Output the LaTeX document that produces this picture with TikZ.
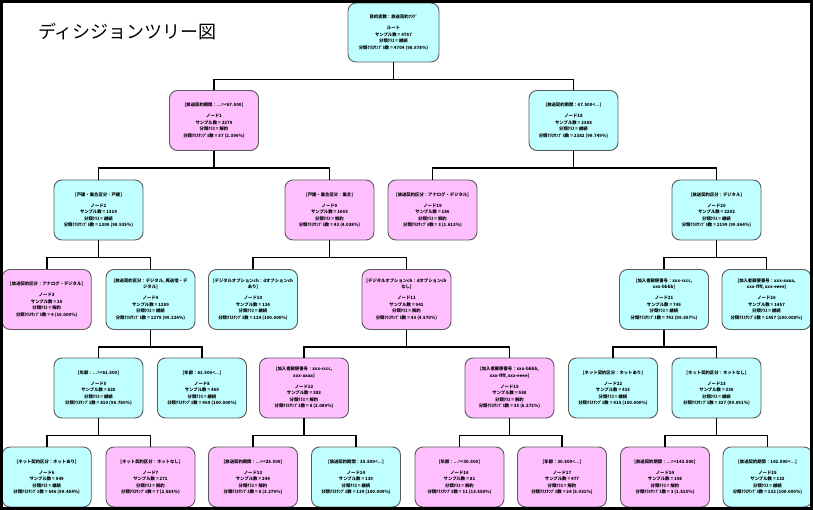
\documentclass[tikz,border=0pt]{standalone}
\usepackage{fontspec}
\setmainfont{Noto Sans CJK JP}
\definecolor{contcyan}{RGB}{191,255,255}
\definecolor{churnpink}{RGB}{255,191,255}

\begin{document}
\begin{tikzpicture}[
    x=1pt, y=-1pt,
    box/.style={rectangle, draw=black!65, rounded corners=8pt, minimum width=89pt, minimum height=60pt, align=center, font=\fontsize{4.35}{6.5}\selectfont\bfseries, line width=0.9pt, inner sep=1pt},
    cont/.style={box, fill=contcyan},
    churn/.style={box, fill=churnpink},
    link/.style={line width=1.6pt},
    ttl/.style={font=\fontsize{18}{20}\selectfont}
]
\useasboundingbox (0,0) rectangle (813,510);

% Title
\node[ttl] (title) at (127.5,32) {ディシジョンツリー図};

% Root
\node[cont, minimum width=91pt, minimum height=59pt] (n0) at (393.5,32.5) {目的変数：放送契約ﾌﾗｸﾞ\\[5pt]ルート\\サンプル数 = 4767\\分類ｸﾗｽ = 継続\\分類ｸﾗｽｻﾝﾌﾟﾙ数 = 4704 (98.678\%)};

% Level 1
\node[churn] (n1) at (214,120.5) {[放送契約期間：...=<67.500]\\[4.5pt]ノード1\\サンプル数 = 2379\\分類ｸﾗｽ = 解約\\分類ｸﾗｽｻﾝﾌﾟﾙ数 = 57 (2.396\%)};
\node[cont] (n18) at (573.5,120.5) {[放送契約期間：67.500<...]\\[4.5pt]ノード18\\サンプル数 = 2388\\分類ｸﾗｽ = 継続\\分類ｸﾗｽｻﾝﾌﾟﾙ数 = 2382 (99.749\%)};

% Level 2
\node[cont] (n2) at (98.5,210) {[戸建・集合区分：戸建]\\[4.5pt]ノード2\\サンプル数 = 1314\\分類ｸﾗｽ = 継続\\分類ｸﾗｽｻﾝﾌﾟﾙ数 = 1300 (98.935\%)};
\node[churn] (n9) at (329.5,210) {[戸建・集合区分：集合]\\[4.5pt]ノード9\\サンプル数 = 1065\\分類ｸﾗｽ = 解約\\分類ｸﾗｽｻﾝﾌﾟﾙ数 = 43 (4.038\%)};
\node[churn] (n19) at (432.5,210) {[放送契約区分：アナログ・デジタル]\\[4.5pt]ノード19\\サンプル数 = 186\\分類ｸﾗｽ = 解約\\分類ｸﾗｽｻﾝﾌﾟﾙ数 = 3 (1.613\%)};
\node[cont] (n20) at (716.5,210) {[放送契約区分：デジタル]\\[4.5pt]ノード20\\サンプル数 = 2202\\分類ｸﾗｽ = 継続\\分類ｸﾗｽｻﾝﾌﾟﾙ数 = 2199 (99.864\%)};

% Level 3
\node[churn] (n3) at (46.7,299.5) {[放送契約区分：アナログ・デジタル]\\[4.5pt]ノード3\\サンプル数 = 25\\分類ｸﾗｽ = 解約\\分類ｸﾗｽｻﾝﾌﾟﾙ数 = 4 (16.000\%)};
\node[cont] (n4) at (150.5,299.5) {[放送契約区分：デジタル, 再送信・デ\\ジタル]\\[4.5pt]ノード4\\サンプル数 = 1289\\分類ｸﾗｽ = 継続\\分類ｸﾗｽｻﾝﾌﾟﾙ数 = 1279 (99.224\%)};
\node[cont] (n10) at (253,299.5) {[デジタルオプションch：dオプションch\\あり]\\[4.5pt]ノード10\\サンプル数 = 124\\分類ｸﾗｽ = 継続\\分類ｸﾗｽｻﾝﾌﾟﾙ数 = 124 (100.000\%)};
\node[churn] (n11) at (406.5,299.5) {[デジタルオプションch：dオプションch\\なし]\\[4.5pt]ノード11\\サンプル数 = 941\\分類ｸﾗｽ = 解約\\分類ｸﾗｽｻﾝﾌﾟﾙ数 = 43 (4.570\%)};
\node[cont] (n21) at (664,299.5) {[加入者郵便番号：xxx-cccc,\\xxx-bbbb]\\[4.5pt]ノード21\\サンプル数 = 745\\分類ｸﾗｽ = 継続\\分類ｸﾗｽｻﾝﾌﾟﾙ数 = 742 (99.597\%)};
\node[cont] (n26) at (766.5,299.5) {[加入者郵便番号：xxx-aaaa,\\xxx-ffff, xxx-eeee]\\[4.5pt]ノード26\\サンプル数 = 1457\\分類ｸﾗｽ = 継続\\分類ｸﾗｽｻﾝﾌﾟﾙ数 = 1457 (100.000\%)};

% Level 4
\node[cont] (n5) at (98.5,388) {[年齢：...=<61.500]\\[4.5pt]ノード5\\サンプル数 = 820\\分類ｸﾗｽ = 継続\\分類ｸﾗｽｻﾝﾌﾟﾙ数 = 810 (98.780\%)};
\node[cont] (n8) at (202,388) {[年齢：61.500<...]\\[4.5pt]ノード8\\サンプル数 = 469\\分類ｸﾗｽ = 継続\\分類ｸﾗｽｻﾝﾌﾟﾙ数 = 469 (100.000\%)};
\node[churn] (n12) at (304,388) {[加入者郵便番号：xxx-cccc,\\xxx-aaaa]\\[4.5pt]ノード12\\サンプル数 = 383\\分類ｸﾗｽ = 解約\\分類ｸﾗｽｻﾝﾌﾟﾙ数 = 8 (2.089\%)};
\node[churn] (n15) at (509.5,388) {[加入者郵便番号：xxx-bbbb,\\xxx-ffff, xxx-eeee]\\[4.5pt]ノード15\\サンプル数 = 558\\分類ｸﾗｽ = 解約\\分類ｸﾗｽｻﾝﾌﾟﾙ数 = 35 (6.272\%)};
\node[cont] (n22) at (613,388) {[ネット契約区分：ネットあり]\\[4.5pt]ノード22\\サンプル数 = 415\\分類ｸﾗｽ = 継続\\分類ｸﾗｽｻﾝﾌﾟﾙ数 = 415 (100.000\%)};
\node[cont] (n23) at (716.5,388) {[ネット契約区分：ネットなし]\\[4.5pt]ノード23\\サンプル数 = 330\\分類ｸﾗｽ = 継続\\分類ｸﾗｽｻﾝﾌﾟﾙ数 = 327 (99.091\%)};

% Level 5
\node[cont] (n6) at (46.7,477) {[ネット契約区分：ネットあり]\\[4.5pt]ノード6\\サンプル数 = 549\\分類ｸﾗｽ = 継続\\分類ｸﾗｽｻﾝﾌﾟﾙ数 = 546 (99.454\%)};
\node[churn] (n7) at (150.5,477) {[ネット契約区分：ネットなし]\\[4.5pt]ノード7\\サンプル数 = 271\\分類ｸﾗｽ = 解約\\分類ｸﾗｽｻﾝﾌﾟﾙ数 = 7 (2.583\%)};
\node[churn] (n13) at (253,477) {[放送契約期間：...=<25.500]\\[4.5pt]ノード13\\サンプル数 = 244\\分類ｸﾗｽ = 解約\\分類ｸﾗｽｻﾝﾌﾟﾙ数 = 8 (3.279\%)};
\node[cont] (n14) at (356,477) {[放送契約期間：25.500<...]\\[4.5pt]ノード14\\サンプル数 = 139\\分類ｸﾗｽ = 継続\\分類ｸﾗｽｻﾝﾌﾟﾙ数 = 139 (100.000\%)};
\node[churn] (n16) at (459.5,477) {[年齢：...=<30.500]\\[4.5pt]ノード16\\サンプル数 = 81\\分類ｸﾗｽ = 解約\\分類ｸﾗｽｻﾝﾌﾟﾙ数 = 11 (13.580\%)};
\node[churn] (n17) at (562,477) {[年齢：30.500<...]\\[4.5pt]ノード17\\サンプル数 = 477\\分類ｸﾗｽ = 解約\\分類ｸﾗｽｻﾝﾌﾟﾙ数 = 24 (5.031\%)};
\node[churn] (n24) at (665,477) {[放送契約期間：...=<142.500]\\[4.5pt]ノード24\\サンプル数 = 198\\分類ｸﾗｽ = 解約\\分類ｸﾗｽｻﾝﾌﾟﾙ数 = 3 (1.515\%)};
\node[cont] (n25) at (767.5,477) {[放送契約期間：142.500<...]\\[4.5pt]ノード25\\サンプル数 = 132\\分類ｸﾗｽ = 継続\\分類ｸﾗｽｻﾝﾌﾟﾙ数 = 132 (100.000\%)};

% Branches
\draw[link] (n0.south) -- ++(0,17) -| (n1.north);
\draw[link] (n0.south) -- ++(0,17) -| (n18.north);
\draw[link] (n1.south) -- ++(0,17) -| (n2.north);
\draw[link] (n1.south) -- ++(0,17) -| (n9.north);
\draw[link] (n18.south) -- ++(0,17) -| (n19.north);
\draw[link] (n18.south) -- ++(0,17) -| (n20.north);
\draw[link] (n2.south) -- ++(0,17) -| (n3.north);
\draw[link] (n2.south) -- ++(0,17) -| (n4.north);
\draw[link] (n9.south) -- ++(0,17) -| (n10.north);
\draw[link] (n9.south) -- ++(0,17) -| (n11.north);
\draw[link] (n20.south) -- ++(0,17) -| (n21.north);
\draw[link] (n20.south) -- ++(0,17) -| (n26.north);
\draw[link] (n4.south) -- ++(0,17) -| (n5.north);
\draw[link] (n4.south) -- ++(0,17) -| (n8.north);
\draw[link] (n11.south) -- ++(0,17) -| (n12.north);
\draw[link] (n11.south) -- ++(0,17) -| (n15.north);
\draw[link] (n21.south) -- ++(0,17) -| (n22.north);
\draw[link] (n21.south) -- ++(0,17) -| (n23.north);
\draw[link] (n5.south) -- ++(0,17) -| (n6.north);
\draw[link] (n5.south) -- ++(0,17) -| (n7.north);
\draw[link] (n12.south) -- ++(0,17) -| (n13.north);
\draw[link] (n12.south) -- ++(0,17) -| (n14.north);
\draw[link] (n15.south) -- ++(0,17) -| (n16.north);
\draw[link] (n15.south) -- ++(0,17) -| (n17.north);
\draw[link] (n23.south) -- ++(0,17) -| (n24.north);
\draw[link] (n23.south) -- ++(0,17) -| (n25.north);

% Frame
\draw[line width=3pt] (1.5,1.5) rectangle (811.5,508.5);

\end{tikzpicture}
\end{document}
